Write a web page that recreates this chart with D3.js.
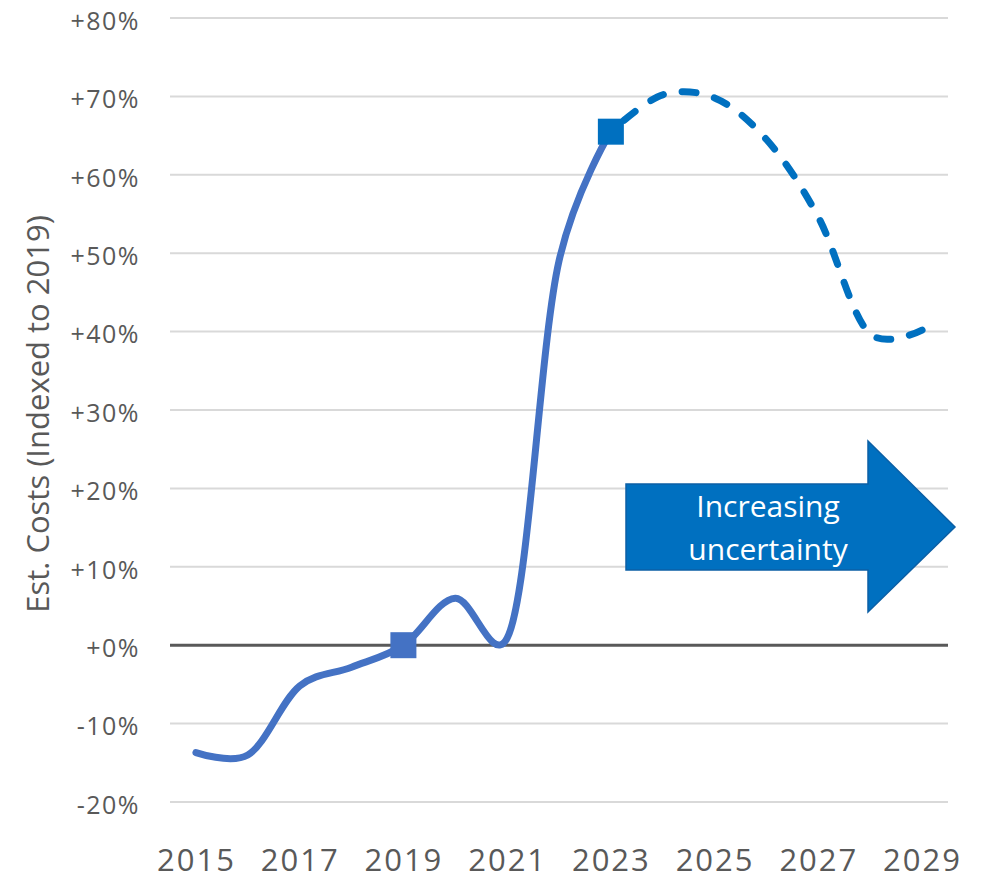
<!DOCTYPE html>
<html>
<head>
<meta charset="utf-8">
<script src="https://cdn.jsdelivr.net/npm/d3@7"></script>
<style>
  body { margin: 0; background: #fff; }
  text { font-family: "Open Sans", sans-serif; }
</style>
</head>
<body>
<div id="chart-area"></div>
<script>
// chart size
var width = 992,
	height = 881;

// data (percent vs 2019)
var years = [2015, 2016, 2017, 2018, 2019, 2020, 2021, 2022, 2023, 2024, 2025, 2026, 2027, 2028, 2029];
var actualYears = [2015, 2016, 2017, 2018, 2019, 2020, 2021, 2022, 2023];
var actualValues = [-13.7, -14.0, -5.2, -2.8, 0, 6.0, 0.9, 49.0, 65.5];
var forecastYears = [2023, 2024, 2025, 2026, 2027, 2028, 2029];
var forecastValues = [65.5, 70.2, 69.8, 64.5, 54.6, 39.7, 40.2];
var markerYears = [2019, 2023];
var xTickLabels = [2015, 2017, 2019, 2021, 2023, 2025, 2027, 2029];
var yTicks = [-20, -10, 0, 10, 20, 30, 40, 50, 60, 70, 80];

var svg = d3.select("#chart-area").append("svg")
	.attr("width", width)
	.attr("height", height);

var x = d3.scalePoint()
	.domain(years)
	.range([170, 948])
	.padding(0.5);

var y = d3.scaleLinear()
	.domain([-20, 80])
	.range([802, 18]);

// gridlines
svg.append("g").selectAll("line")
	.data(yTicks)
	.enter()
	.append("line")
	.attr("x1", 170)
	.attr("x2", 948)
	.attr("y1", function(d) { return y(d); })
	.attr("y2", function(d) { return y(d); })
	.attr("stroke", function(d) { return d === 0 ? "#595959" : "#d9d9d9"; })
	.attr("stroke-width", function(d) { return d === 0 ? 3 : 2; });

// y axis labels
var yAxis = d3.axisLeft(y)
	.tickValues(yTicks)
	.tickSize(0)
	.tickPadding(0)
	.tickFormat(function(d) { return (d >= 0 ? "+" : "") + d + "%"; });

svg.append("g")
	.attr("class", "yAxis")
	.attr("transform", "translate(140,0)")
	.call(yAxis)
	.call(function(g) { g.select(".domain").remove(); })
	.selectAll("text")
	.attr("fill", "#595959")
	.attr("font-size", "25px")
	.attr("letter-spacing", "1.5px")
	.attr("font-family", "'Open Sans', sans-serif")
	.attr("dy", "0.45em");

// x axis labels
var xAxis = d3.axisBottom(x)
	.tickValues(xTickLabels)
	.tickSize(0)
	.tickPadding(0);

svg.append("g")
	.attr("class", "xAxis")
	.attr("transform", "translate(0,849)")
	.call(xAxis)
	.call(function(g) { g.select(".domain").remove(); })
	.selectAll("text")
	.attr("fill", "#595959")
	.attr("font-size", "31px")
	.attr("letter-spacing", "2px")
	.attr("font-family", "'Open Sans', sans-serif")
	.attr("dy", "0.71em");

// y axis title
svg.append("text")
	.attr("transform", "translate(49,414) rotate(-90)")
	.attr("text-anchor", "middle")
	.attr("fill", "#595959")
	.attr("font-size", "31px")
	.text("Est. Costs (Indexed to 2019)");

var line = d3.line()
	.x(function(d) { return x(d[0]); })
	.y(function(d) { return y(d[1]); })
	.curve(d3.curveCatmullRom.alpha(0.2));

// solid (actual) line
svg.append("path")
	.datum(d3.zip(actualYears, actualValues))
	.attr("d", line)
	.attr("fill", "none")
	.attr("stroke", "#4472c4")
	.attr("stroke-width", 7)
	.attr("stroke-linecap", "round")
	.attr("stroke-linejoin", "round");

// dashed (forecast) line, pattern shifted so a dash ends on the last point
var dashed = svg.append("path")
	.datum(d3.zip(forecastYears, forecastValues))
	.attr("d", line)
	.attr("fill", "none")
	.attr("stroke", "#0070c0")
	.attr("stroke-width", 7)
	.attr("stroke-linecap", "round")
	.attr("stroke-dasharray", "14,19");
var len = dashed.node().getTotalLength();
var period = 33;
dashed.attr("stroke-dashoffset", ((14 - len) % period + period) % period);

// square markers
svg.append("g").selectAll("rect")
	.data(markerYears)
	.enter()
	.append("rect")
	.attr("x", function(d) { return x(d) - 13; })
	.attr("y", function(d) { return y(actualValues[actualYears.indexOf(d)]) - 13; })
	.attr("width", 26)
	.attr("height", 26)
	.attr("fill", function(d) { return d === 2023 ? "#0070c0" : "#4472c4"; });

// arrow annotation
var ax0 = 626, ax1 = 868, ax2 = 955,
	bodyTop = 484, bodyBot = 570, headTop = 441, headBot = 612,
	tipY = (bodyTop + bodyBot) / 2;
svg.append("path")
	.attr("d", "M" + ax0 + "," + bodyTop + "L" + ax1 + "," + bodyTop + "L" + ax1 + "," + headTop +
		"L" + ax2 + "," + tipY + "L" + ax1 + "," + headBot + "L" + ax1 + "," + bodyBot +
		"L" + ax0 + "," + bodyBot + "Z")
	.attr("fill", "#0070c0")
	.attr("stroke", "#0b5fa5")
	.attr("stroke-width", 1.5);

svg.append("text")
	.attr("x", 768)
	.attr("y", 517)
	.attr("text-anchor", "middle")
	.attr("fill", "#fff")
	.attr("font-size", "30px")
	.text("Increasing");

svg.append("text")
	.attr("x", 768)
	.attr("y", 560)
	.attr("text-anchor", "middle")
	.attr("fill", "#fff")
	.attr("font-size", "30px")
	.text("uncertainty");
</script>
</body>
</html>
